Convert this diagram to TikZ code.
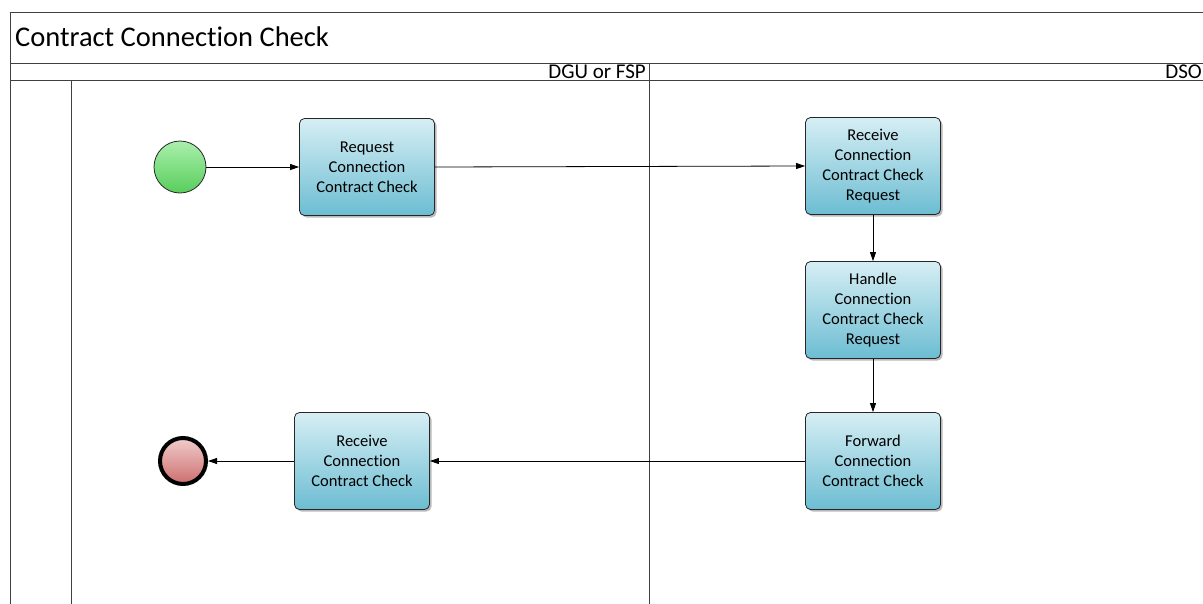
\documentclass[tikz,border=0pt]{standalone}
\usepackage{fontspec}
\setmainfont{Carlito}[Ligatures=NoCommon]
\usetikzlibrary{arrows.meta,shadows}
\definecolor{boxtop}{HTML}{D6EEF4}
\definecolor{boxbot}{HTML}{6CBDD2}
\definecolor{starttop}{HTML}{AAEFAC}
\definecolor{startbot}{HTML}{58CE5C}
\definecolor{endtop}{HTML}{F2CCCC}
\definecolor{endbot}{HTML}{CC6E6E}
\definecolor{frameline}{HTML}{404040}
\begin{document}
\begin{tikzpicture}[x=1pt,y=-1pt,
  task/.style={draw=black!85, line width=0.8pt, rounded corners=5pt,
    top color=boxtop, bottom color=boxbot,
    minimum width=135pt, minimum height=97pt, align=center,
    font=\fontsize{16.5}{20}\selectfont,
    drop shadow={shadow xshift=2pt, shadow yshift=-2pt, fill=black!45, opacity=0.6}},
  startev/.style={circle, draw=black!85, line width=0.8pt, minimum size=52pt,
    top color=starttop, bottom color=startbot, inner sep=0pt},
  endev/.style={circle, draw=black, line width=4pt, minimum size=46pt,
    top color=endtop, bottom color=endbot, inner sep=0pt},
  flow/.style={draw=black, line width=0.8pt, -{Triangle[length=9pt,width=6pt]}},
  frame/.style={draw=frameline, line width=0.9pt},
  lanelabel/.style={anchor=base east, font=\fontsize{21}{24}\selectfont, inner sep=0pt}
]
\useasboundingbox (0,0) rectangle (1203,603);
\begin{scope}
\clip (0,0) rectangle (1203,603);
% pool frame
\draw[frame] (1210,12) -- (10,12) -- (10,610);
\draw[frame] (10,63) -- (1210,63);
\draw[frame] (10,80) -- (1210,80);
\draw[frame] (71,80) -- (71,610);
\draw[frame] (649,63) -- (649,610);
\end{scope}
\node[lanelabel] (lane2) at (1202,78) {DSO};
\node[anchor=base west, font=\fontsize{28.5}{32}\selectfont, inner sep=0pt] (title) at (15,46) {Contract Connection Check};
\node[lanelabel] (lane1) at (646,78) {DGU or FSP};

\node[startev] (start) at (180,167) {};
\node[task] (req) at (367,167) {Request\\Connection\\Contract Check};
\node[task] (recreq) at (873,166) {Receive\\Connection\\Contract Check\\Request};
\node[task] (handle) at (873,310) {Handle\\Connection\\Contract Check\\Request};
\node[task] (fwd) at (873,461) {Forward\\Connection\\Contract Check};
\node[task] (rec) at (362,461) {Receive\\Connection\\Contract Check};
\node[endev] (end) at (183,461) {};

\draw[flow] (start) -- (req);
\draw[flow] (req.east) -- (recreq.west);
\draw[flow] (recreq) -- (handle);
\draw[flow] (handle) -- (fwd);
\draw[flow] (fwd) -- (rec);
\draw[flow] (rec) -- (end);
\end{tikzpicture}
\end{document}
